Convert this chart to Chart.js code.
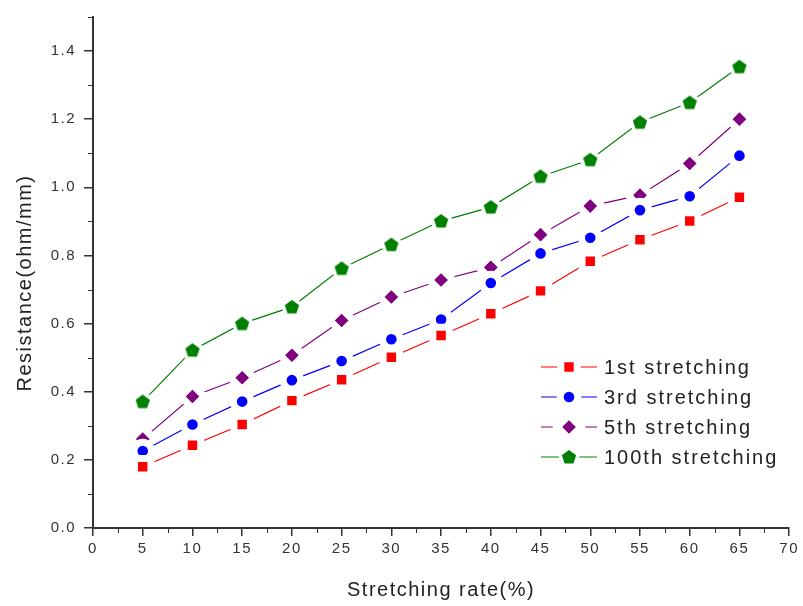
<!DOCTYPE html>
<html>
<head>
<meta charset="utf-8">
<script src="https://cdn.jsdelivr.net/npm/chart.js@4.4.0/dist/chart.umd.min.js"></script>
<style>
    html, body { margin: 0; padding: 0; background: #fff; }
    #wrap { width: 803px; height: 606px; }
</style>
</head>
<body>
<div id="wrap"><canvas id="chart" width="803" height="606"></canvas></div>
<script>
// --- DATA ---
const stretchRate = [5, 10, 15, 20, 25, 30, 35, 40, 45, 50, 55, 60, 65];
const first = [0.180, 0.243, 0.304, 0.374, 0.435, 0.501, 0.565, 0.629, 0.696, 0.783, 0.846, 0.901, 0.971];
const third = [0.226, 0.304, 0.371, 0.434, 0.490, 0.554, 0.612, 0.719, 0.806, 0.852, 0.933, 0.974, 1.093];
const fifth = [0.261, 0.386, 0.441, 0.507, 0.609, 0.678, 0.728, 0.765, 0.861, 0.945, 0.977, 1.070, 1.200];
const hundredth = [0.371, 0.522, 0.600, 0.649, 0.762, 0.832, 0.901, 0.942, 1.032, 1.081, 1.191, 1.249, 1.354];
const seriesLabels = ['1st stretching', '3rd stretching', '5th stretching', '100th stretching'];

const FONT = '"Liberation Sans", Arial, sans-serif';
const HALO = 7; // white ring around markers -> gap in the line like Origin

// Pentagon marker (no built-in style for it)
function makePentagon(color, r, halo) {
    const size = Math.ceil((r + halo) * 2) + 2;
    const c = document.createElement('canvas');
    c.width = size;
    c.height = size;
    const g = c.getContext('2d');
    const cx = size / 2, cy = size / 2 + 0.5;
    g.beginPath();
    for (let i = 0; i < 5; i++) {
        const a = -Math.PI / 2 + i * 2 * Math.PI / 5;
        const px = cx + r * Math.cos(a), py = cy + r * Math.sin(a);
        if (i === 0) g.moveTo(px, py); else g.lineTo(px, py);
    }
    g.closePath();
    g.lineJoin = 'round';
    g.lineWidth = halo * 2;
    g.strokeStyle = '#fff';
    g.stroke();
    g.fillStyle = color;
    g.fill();
    return c;
}

const styles = [
    { color: '#ff0000', pointStyle: 'rect', radius: 11.6 },
    { color: '#0000ff', pointStyle: 'circle', radius: 8.8 },
    { color: '#800080', pointStyle: 'rectRot', radius: 11.8 },
    { color: '#008000', pointStyle: makePentagon('#008000', 7.5, HALO / 2), radius: 11 }
];

function makeDataset(i, values) {
    const s = styles[i];
    return {
        label: seriesLabels[i],
        data: stretchRate.map((x, k) => ({ x: x, y: values[k] })),
        borderColor: s.color,
        backgroundColor: s.color,
        borderWidth: 1.2,
        pointStyle: s.pointStyle,
        pointRadius: s.radius,
        pointBackgroundColor: s.color,
        pointBorderColor: '#fff',
        pointBorderWidth: HALO,
        tension: 0
    };
}

// --- EXTRAS: minor ticks, y title, legend ---
const extras = {
    id: 'extras',
    beforeUpdate(chart) {
        chart.ctx.letterSpacing = '1.5px';
    },
    afterDraw(chart) {
        const ctx = chart.ctx;
        const xs = chart.scales.x, ys = chart.scales.y;

        // minor ticks
        ctx.save();
        ctx.strokeStyle = '#333';
        ctx.lineWidth = 1;
        ctx.beginPath();
        for (let v = 2.5; v < 70; v += 5) {
            const px = Math.round(xs.getPixelForValue(v)) + 0.5;
            ctx.moveTo(px, ys.bottom);
            ctx.lineTo(px, ys.bottom + 5);
        }
        for (let v = 0.1; v < 1.55; v += 0.2) {
            const py = Math.round(ys.getPixelForValue(v)) + 0.5;
            ctx.moveTo(xs.left - 5, py);
            ctx.lineTo(xs.left, py);
        }
        ctx.stroke();
        ctx.restore();

        // y axis title
        ctx.save();
        ctx.translate(25, 283);
        ctx.rotate(-Math.PI / 2);
        ctx.font = '20px ' + FONT;
        ctx.letterSpacing = '1.5px';
        ctx.fillStyle = '#222';
        ctx.textAlign = 'center';
        ctx.textBaseline = 'middle';
        ctx.fillText('Resistance(ohm/mm)', 0, 0);
        ctx.restore();

        // legend
        ctx.save();
        ctx.font = '20px ' + FONT;
        ctx.letterSpacing = '2px';
        ctx.textBaseline = 'middle';
        chart.data.datasets.forEach((ds, i) => {
            const y = 367 + i * 30;
            ctx.strokeStyle = ds.borderColor;
            ctx.lineWidth = 1.2;
            ctx.beginPath();
            ctx.moveTo(541, y);
            ctx.lineTo(597, y);
            ctx.stroke();
            ctx.fillStyle = ds.pointBackgroundColor;
            ctx.strokeStyle = '#fff';
            ctx.lineWidth = HALO;
            Chart.helpers.drawPoint(ctx, {
                pointStyle: ds.pointStyle,
                rotation: 0,
                radius: ds.pointRadius,
                borderWidth: HALO
            }, 569, y);
            ctx.fillStyle = '#222';
            ctx.fillText(ds.label, 604, y + 1);
        });
        ctx.restore();
    }
};

// --- CHART ---
const ctx = document.getElementById('chart').getContext('2d');

const chart = new Chart(ctx, {
    type: 'line',
    data: {
        datasets: [
            makeDataset(0, first),
            makeDataset(1, third),
            makeDataset(2, fifth),
            makeDataset(3, hundredth)
        ]
    },
    options: {
        responsive: false,
        animation: false,
        layout: { autoPadding: false, padding: { left: 0, top: 8, right: 12, bottom: 0 } },
        scales: {
            x: {
                type: 'linear',
                min: 0,
                max: 70,
                afterFit: (s) => { s.height = 78; },
                ticks: {
                    stepSize: 5,
                    padding: 4,
                    color: '#333',
                    font: { family: FONT, size: 15 }
                },
                grid: {
                    drawOnChartArea: false,
                    tickLength: 8,
                    color: '#333',
                    lineWidth: 1.5
                },
                border: { display: true, color: '#333', width: 2 },
                title: {
                    display: true,
                    text: 'Stretching rate(%)',
                    color: '#222',
                    font: { family: FONT, size: 20 },
                    padding: { top: 0, bottom: 4 }
                }
            },
            y: {
                type: 'linear',
                min: 0,
                max: 1.5,
                afterFit: (s) => { s.width = 93; },
                ticks: {
                    stepSize: 0.2,
                    includeBounds: false,
                    padding: 8,
                    color: '#333',
                    font: { family: FONT, size: 15 },
                    callback: (v) => v.toFixed(1)
                },
                grid: {
                    drawOnChartArea: false,
                    tickLength: 9,
                    color: '#333',
                    lineWidth: 1.5
                },
                border: { display: true, color: '#333', width: 2 }
            }
        },
        plugins: {
            legend: { display: false },
            tooltip: { enabled: false }
        }
    },
    plugins: [extras]
});
</script>
</body>
</html>
